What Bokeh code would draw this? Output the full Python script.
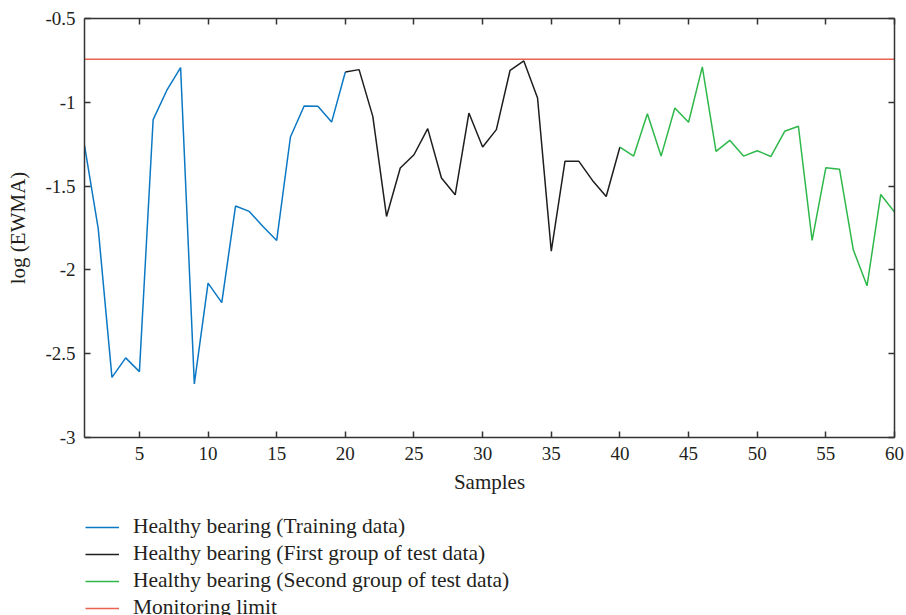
from bokeh.plotting import figure
from bokeh.layouts import column
from bokeh.models import LinearAxis, FixedTicker, Legend, LegendItem
from bokeh.embed import file_html
from bokeh.resources import INLINE

# Sample indices for each segment of the EWMA statistic
train_x = list(range(1, 21))
test1_x = list(range(20, 41))
test2_x = list(range(40, 61))

# log(EWMA) values
train_y = [-1.257, -1.754, -2.641, -2.525, -2.607, -1.103, -0.928, -0.793, -2.680, -2.079,
           -2.195, -1.619, -1.651, -1.741, -1.824, -1.207, -1.022, -1.024, -1.118, -0.819]
test1_y = [-0.819, -0.805, -1.084, -1.681, -1.392, -1.313, -1.157, -1.452, -1.552, -1.064,
           -1.267, -1.163, -0.809, -0.753, -0.974, -1.888, -1.351, -1.351, -1.466, -1.562,
           -1.267]
test2_y = [-1.267, -1.321, -1.068, -1.321, -1.034, -1.119, -0.789, -1.293, -1.227, -1.321,
           -1.289, -1.323, -1.173, -1.143, -1.824, -1.390, -1.400, -1.880, -2.095, -1.550,
           -1.655]

monitoring_limit = -0.743

x_ticks = [5, 10, 15, 20, 25, 30, 35, 40, 45, 50, 55, 60]
y_ticks = [-3, -2.5, -2, -1.5, -1, -0.5]
y_tick_labels = ["-3", "-2.5", "-2", "-1.5", "-1", "-0.5"]

legend_labels = [
    "Healthy bearing (Training data)",
    "Healthy bearing (First group of test data)",
    "Healthy bearing (Second group of test data)",
    "Monitoring limit",
]

FONT = "Liberation Serif"
TEXT = "#231f20"
AXIS = "#333333"
BLUE = "#0a78c4"
BLACK = "#1e1e1e"
GREEN = "#2fb84a"
RED = "#ea6150"
series_colors = [BLUE, BLACK, GREEN, RED]

limit_x = [train_x[0], test2_x[-1]]
limit_y = [monitoring_limit] * 2
series = [(train_x, train_y), (test1_x, test1_y), (test2_x, test2_y), (limit_x, limit_y)]

p = figure(width=906, height=500, x_range=(1, 60), y_range=(-3, -0.5),
           output_backend="svg", toolbar_location=None,
           min_border_left=84, min_border_right=12, min_border_top=18,
           min_border_bottom=63, x_axis_label="Samples", y_axis_label="log (EWMA)")
p.grid.visible = False
p.outline_line_color = None
p.background_fill_color = "white"
p.border_fill_color = "white"

for ax in (p.xaxis[0], p.yaxis[0]):
    ax.major_tick_in = 6
    ax.major_tick_out = 0
    ax.minor_tick_line_color = None
    ax.axis_line_color = AXIS
    ax.axis_line_width = 1.5
    ax.major_tick_line_color = AXIS
    ax.major_tick_line_width = 1.5
    ax.major_label_text_font = FONT
    ax.major_label_text_font_size = "19px"
    ax.major_label_text_color = TEXT
    ax.axis_label_text_font = FONT
    ax.axis_label_text_font_size = "21px"
    ax.axis_label_text_font_style = "normal"
    ax.axis_label_text_color = TEXT
    ax.major_label_standoff = 9

p.xaxis[0].ticker = FixedTicker(ticks=x_ticks)
p.xaxis[0].axis_label_standoff = 7
p.yaxis[0].ticker = FixedTicker(ticks=y_ticks)
p.yaxis[0].major_label_overrides = dict(zip(y_ticks, y_tick_labels))
p.yaxis[0].axis_label_standoff = 12


def box_axis(ticks):
    # unlabeled mirror axis that closes the box with inward ticks
    return LinearAxis(ticker=FixedTicker(ticks=ticks),
                      major_label_overrides={t: "" for t in ticks},
                      major_label_standoff=0, major_tick_in=6, major_tick_out=0,
                      minor_tick_line_color=None, axis_line_color=AXIS, axis_line_width=1.5,
                      major_tick_line_color=AXIS, major_tick_line_width=1.5)


p.add_layout(box_axis(x_ticks), "above")
p.add_layout(box_axis(y_ticks), "right")

for (xs, ys), c in zip(series, series_colors):
    p.line(xs, ys, line_color=c, line_width=1.5)

# Legend strip under the chart. Its y range (0, 1) lies above every log(EWMA)
# value, so the series themselves stay out of view and only the legend shows.
lp = figure(width=906, height=115, x_range=(1, 60), y_range=(0, 1),
            output_backend="svg", toolbar_location=None,
            x_axis_location=None, y_axis_location=None,
            min_border_left=0, min_border_right=0, min_border_top=0, min_border_bottom=0)
lp.grid.visible = False
lp.outline_line_color = None
lp.border_fill_color = "white"

samples = [lp.line(xs, ys, line_color=c, line_width=1.5)
           for (xs, ys), c in zip(series, series_colors)]
legend = Legend(
    items=[LegendItem(label=lab, renderers=[r]) for lab, r in zip(legend_labels, samples)],
    location=(1, -5), orientation="vertical",
    label_text_font=FONT, label_text_font_size="21.5px", label_text_color=TEXT,
    glyph_width=34, glyph_height=24, label_height=24, label_standoff=14,
    spacing=2, padding=0, margin=0,
    border_line_color=None, background_fill_alpha=0,
)
lp.add_layout(legend, "center")

layout = column(p, lp, spacing=0)
open("out.html", "w").write(file_html(layout, INLINE))
